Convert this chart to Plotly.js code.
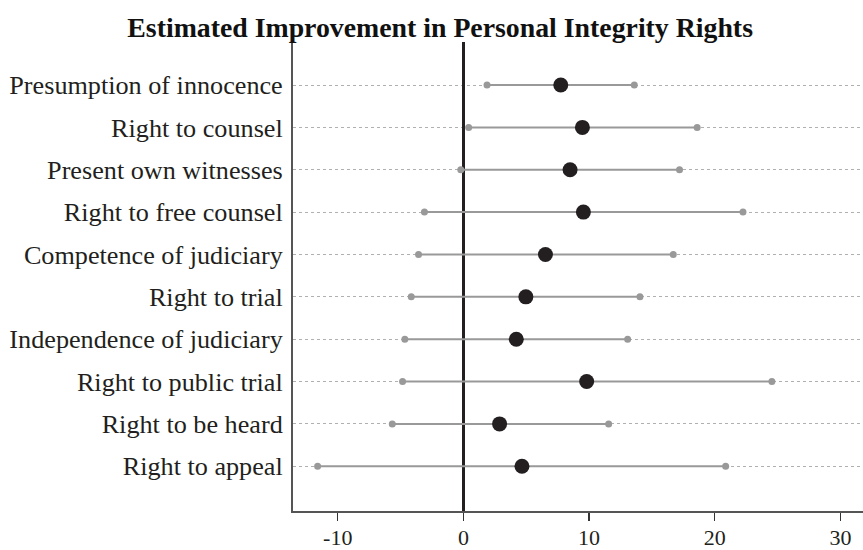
<!DOCTYPE html>
<html>
<head>
<meta charset="utf-8">
<script src="https://cdn.plot.ly/plotly-3.0.1.min.js"></script>
<style>html,body{margin:0;padding:0;background:#fff;}#chart{width:863px;height:550px;}</style>
</head>
<body>
<div id="chart"></div>
<script>
// Data (top to bottom as shown)
var rights = ["Presumption of innocence","Right to counsel","Present own witnesses","Right to free counsel","Competence of judiciary","Right to trial","Independence of judiciary","Right to public trial","Right to be heard","Right to appeal"];
var estimate = [7.75, 9.47, 8.49, 9.55, 6.53, 4.97, 4.21, 9.81, 2.88, 4.66];
var lower = [1.88, 0.42, -0.21, -3.1, -3.57, -4.15, -4.66, -4.84, -5.66, -11.6];
var upper = [13.6, 18.6, 17.2, 22.25, 16.7, 14.05, 13.07, 24.55, 11.56, 20.87];
var xTicks = [-10, 0, 10, 20, 30];

var segX = [], segY = [];
for (var i = 0; i < rights.length; i++) {
  segX.push(lower[i], upper[i], null);
  segY.push(rights[i], rights[i], null);
}

var FONT = "Liberation Serif, Times New Roman, serif";

var traces = [
  {type:"scatter", mode:"lines", x:segX, y:segY, line:{color:"#999999", width:2}, hoverinfo:"skip", showlegend:false},
  {type:"scatter", mode:"markers", x:lower.concat(upper), y:rights.concat(rights), marker:{color:"#999999", size:7}, showlegend:false},
  {type:"scatter", mode:"markers", x:estimate, y:rights, marker:{color:"#231f20", size:15}, showlegend:false}
];

var layout = {
  width:863, height:550,
  margin:{l:293, r:0, t:42, b:39},
  paper_bgcolor:"#fff", plot_bgcolor:"#fff",
  font:{family:FONT, color:"#231f20", size:22},
  title:{text:"<b>Estimated Improvement in Personal Integrity Rights</b>", font:{family:FONT, size:27.8, color:"#111"}, xref:"container", x:0.51, xanchor:"center", yref:"container", y:1-27/550, yanchor:"middle"},
  xaxis:{range:[-13.56, 31.8], tickvals:xTicks, ticktext:xTicks.map(String), showgrid:false,
    zeroline:true, zerolinecolor:"#231f20", zerolinewidth:2.5,
    showline:true, linecolor:"#555", linewidth:2, ticks:"outside", ticklen:8, tickwidth:1.5, tickcolor:"#333",
    ticklabelstandoff:-2,
    tickfont:{family:FONT, size:22, color:"#231f20"}, fixedrange:true},
  yaxis:{type:"category", categoryorder:"array", categoryarray:rights.slice().reverse(),
    range:[-1.056, 10.016], showgrid:true, gridcolor:"#b0b0b0", gridwidth:1, griddash:"dot",
    showline:true, linecolor:"#555", linewidth:2, ticks:"", ticklabelstandoff:3,
    tickfont:{family:FONT, size:26.2, color:"#231f20"}, zeroline:false, fixedrange:true}
};

Plotly.newPlot("chart", traces, layout, {displayModeBar:false, staticPlot:true});
</script>
</body>
</html>
